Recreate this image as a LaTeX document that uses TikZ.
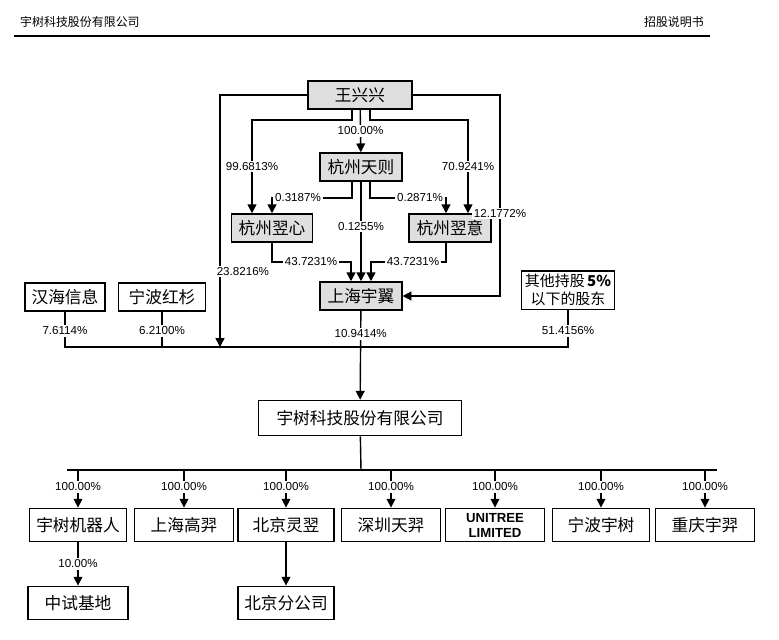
\documentclass[tikz,border=0pt]{standalone}
\usepackage{fontspec}
\setmainfont{Liberation Sans}
\newfontfamily\cjk{Noto Sans CJK SC}
\usetikzlibrary{arrows.meta,calc}
\tikzset{
    block/.style = {draw, thick, rectangle, font=\cjk\fontsize{9.5}{11}\selectfont,
        minimum height=16pt, inner sep=2pt, align=center},
    gblock/.style = {block, fill=gray!25},
    pct/.style = {fill=white, inner sep=1pt, font=\fontsize{6.6}{8}\selectfont},
    arrow/.style = {draw, thick, -{Triangle[length=5pt,width=5pt]}},
    line/.style = {draw, thick}
}
\begin{document}
\begin{tikzpicture}[x=0.02cm, y=-0.02cm]
        \useasboundingbox (0,0) rectangle (779,640);
        % header
        \node[anchor=west, font=\cjk\fontsize{6.8}{8}\selectfont] (hl) at (14,22) {宇树科技股份有限公司};
        \node[anchor=east, font=\cjk\fontsize{6.8}{8}\selectfont] (hr) at (710,22) {招股说明书};
        \draw[thick] (14,36) -- (710,36);
        % top part
        \node [gblock, minimum width=104*0.567pt] (wxx) at (360,95) {王兴兴};
        \node [gblock, minimum width=82*0.567pt] (tianze) at (361,167) {杭州天则};
        \node [gblock, minimum width=81*0.567pt] (yixin) at (272,228) {杭州翌心};
        \node [gblock, minimum width=82*0.567pt] (yiyi) at (450,228) {杭州翌意};
        \node [gblock, minimum width=82*0.567pt] (shyy) at (361,296) {上海宇翼};
        \node [block, minimum width=80*0.567pt] (hanhai) at (65,297) {汉海信息};
        \node [block, minimum width=87*0.567pt] (hongshan) at (162,297) {宁波红杉};
        \node [block, minimum width=84*0.567pt, font=\cjk\fontsize{8.5}{10}\selectfont] (others) at (568,290) {其他持股\textbf{\,5\%}\\以下的股东};
        \node [block, minimum width=204*0.567pt, minimum height=20pt] (yushu) at (360,418) {宇树科技股份有限公司};
        \coordinate (bus) at (361,347);
        \coordinate (busl) at (220,347);

        \draw [arrow] (wxx) -- (tianze) node[pct, midway] {100.00\%};
        \draw [arrow] (wxx.south -| 352,0) |- (252,120) -- (yixin.north -| 252,0) node[pct, pos=.5] {99.6813\%};
        \draw [arrow] (wxx.south -| 370,0) |- (468,120) -- (yiyi.north -| 468,0) node[pct, pos=.5] {70.9241\%};
        \draw [arrow] (wxx.west) -| (busl) node[pct, pos=.85, xshift=23*0.567pt] {23.8216\%};
        \draw [arrow] (wxx.east) -| (500,200) |- (shyy.east) node[pct, pos=.07] {12.1772\%};
        \draw [arrow] (tianze.south -| 352,0) |- (272,198) -- (yixin.north -| 272,0);
        \node [pct] (p1) at (298,198) {0.3187\%};
        \draw [arrow] (tianze.south -| 370,0) |- (446,198) -- (yiyi.north -| 446,0);
        \node [pct] (p2) at (420,198) {0.2871\%};
        \draw [arrow] (tianze) -- (shyy) node[pct, pos=.45] {0.1255\%};
        \draw [arrow] (yixin.south -| 272,0) |- (351,262) -- (shyy.north -| 351,0);
        \node [pct] (p3) at (311,262) {43.7231\%};
        \draw [arrow] (yiyi.south -| 446,0) |- (371,262) -- (shyy.north -| 371,0);
        \node [pct] (p4) at (413,262) {43.7231\%};

        \draw [line] (hanhai) |- (bus);
        \draw [line] (others) |- (bus);
        \draw [line] (hongshan) -- (hongshan |- bus);
        \node [pct] at (65,331) {7.6114\%};
        \node [pct] at (162,331) {6.2100\%};
        \node [pct] at (568,331) {51.4156\%};
        \draw [arrow] (shyy) -- (yushu) node[pct, pos=.26] {10.9414\%};

        % subsidiaries
        \coordinate (bot) at (361,470);
        \draw [line] (yushu) -- (bot);
        \draw [line] (67,470) -- (717,470);
        \foreach \name/\x/\w/\txt in {sub1/78/97/宇树机器人, sub2/184/99/上海高羿, sub3/286/96/北京灵翌,
                sub4/391/99/深圳天羿, sub6/601/97/宁波宇树, sub7/705/99/重庆宇羿}{
            \node [block, minimum width=\w*0.567pt, minimum height=19pt] (\name) at (\x,525) {\txt};
        }
        \node [block, minimum width=99*0.567pt, minimum height=19pt, font=\bfseries\fontsize{7.5}{8.5}\selectfont] (sub5) at (495,525) {UNITREE\\LIMITED};
        \foreach \a in {1,2,...,7}{
            \draw [arrow] (sub\a.north |- bot) -- (sub\a) node[pct, pos=.45] {100.00\%};
        }
        \node [block, minimum width=100*0.567pt, minimum height=19pt] (zhongshi) at (78,603) {中试基地};
        \node [block, minimum width=96*0.567pt, minimum height=19pt] (bjfgs) at (286,603) {北京分公司};
        \draw [arrow] (sub1) -- (zhongshi) node[pct, midway] {10.00\%};
        \draw [arrow] (sub3) -- (bjfgs);
\end{tikzpicture}
\end{document}
